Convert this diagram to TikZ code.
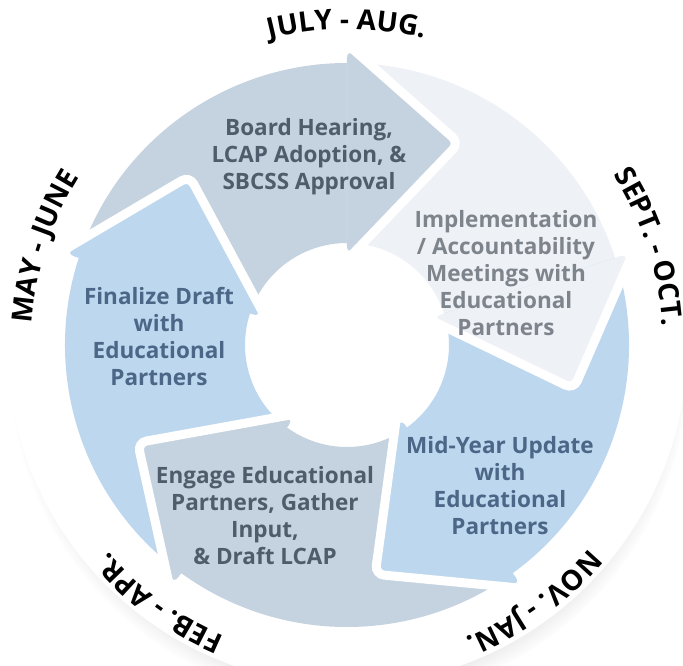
\documentclass[tikz,border=0pt]{standalone}
\usepackage{fontspec}
\setmainfont{Open Sans}
\usetikzlibrary{decorations.text, shadows}
\definecolor{segGray}{HTML}{C5D3E0}
\definecolor{segBlue}{HTML}{BDD7EF}
\definecolor{segPale}{HTML}{EEF2F7}
\definecolor{txtSlate}{HTML}{4E5C6B}
\definecolor{txtBlue}{HTML}{4B6686}
\definecolor{txtGray}{HTML}{7E848B}
\newcommand{\stepfont}{\fontsize{22.5}{27}\selectfont\bfseries}
\newcommand{\monthfont}{\fontsize{28}{32}\selectfont\bfseries}

\begin{document}
\begin{tikzpicture}[x=1pt, y=1pt,
    steptext/.style = {align=center, font=\stepfont},
    monthlabel/.style = {decorate, decoration={text along path, text align=center, text={|\monthfont|#1}}}]
    % Parameters
    \pgfmathsetmacro{\rout}{282}
    \pgfmathsetmacro{\rin}{102}
    \pgfmathsetmacro{\rtxt}{316}
    % Frame
    \useasboundingbox (-347,-320) rectangle (336,345);
    \fill[white, circular drop shadow={shadow xshift=2pt, shadow yshift=-18pt, shadow scale=1.0, opacity=0.4, fill=black!45}] (0,0) circle (340);
    % Ring sectors
    \foreach \b/\col in {162/segBlue, 90/segGray, 18/segPale, -54/segBlue, -126/segGray}{
        \fill[\col] (\b+72:\rout) arc[start angle=\b+72, end angle=\b, radius=\rout]
            -- (\b:\rin) arc[start angle=\b, end angle=\b+72, radius=\rin] -- cycle;
    }
    % Arrow heads
    \foreach \b/\col in {162/segBlue, 90/segGray, 18/segPale, -54/segBlue, -126/segGray}{
        \fill[\col, rounded corners=9pt] (\b:296) -- (\b-29:231) -- (\b:90) -- cycle;
        \draw[white, line width=9pt, rounded corners=9pt] (\b:301) -- (\b-29:231) -- (\b:85);
    }
    % Steps
    \node[steptext, text=txtBlue] (finalize) at (-188,9) {Finalize Draft\\with\\Educational\\Partners};
    \node[steptext, text=txtSlate] (board) at (-38,188) {Board Hearing,\\LCAP Adoption, \&\\SBCSS Approval};
    \node[steptext, text=txtGray] (implement) at (159,72) {Implementation\\/ Accountability\\Meetings with\\Educational\\Partners};
    \node[steptext, text=txtBlue] (midyear) at (153,-141) {Mid-Year Update\\with\\Educational\\Partners};
    \node[steptext, text=txtSlate] (engage) at (-82,-171) {Engage Educational\\Partners, Gather\\Input,\\\& Draft LCAP};
    % Months
    \path[monthlabel={JULY - AUG.}] (130:\rtxt) arc[start angle=130, end angle=50, radius=\rtxt];
    \path[monthlabel={SEPT. - OCT.}] (58:\rtxt) arc[start angle=58, end angle=-22, radius=\rtxt];
    \path[monthlabel={NOV. - JAN.}] (-14:\rtxt) arc[start angle=-14, end angle=-94, radius=\rtxt];
    \path[monthlabel={FEB. - APR.}] (-86:\rtxt) arc[start angle=-86, end angle=-166, radius=\rtxt];
    \path[monthlabel={MAY - JUNE}] (202:\rtxt) arc[start angle=202, end angle=122, radius=\rtxt];
\end{tikzpicture}
\end{document}
